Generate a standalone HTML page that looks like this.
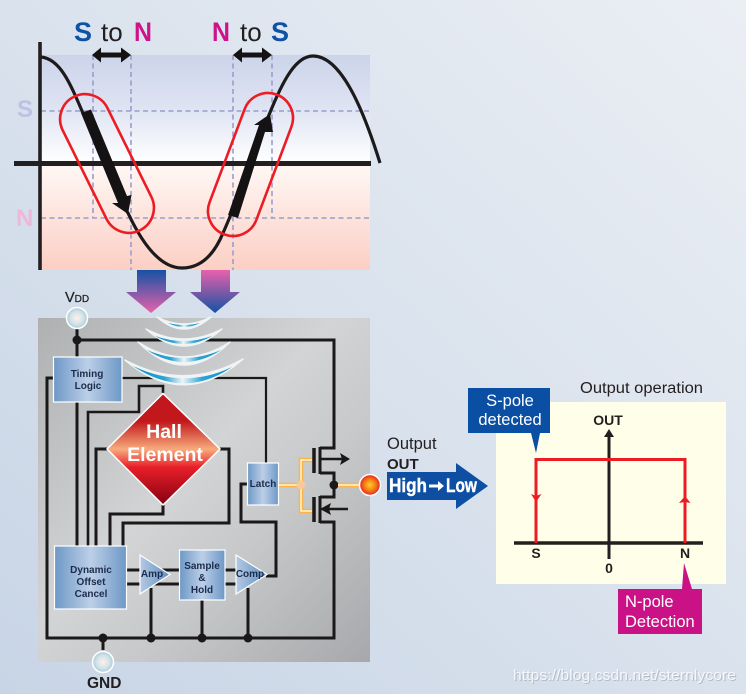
<!DOCTYPE html>
<html><head><meta charset="utf-8">
<style>html,body{margin:0;padding:0;width:746px;height:694px;overflow:hidden}svg{display:block}text{font-family:"Liberation Sans",sans-serif}</style>
</head><body>
<svg width="746" height="694" viewBox="0 0 746 694" xmlns="http://www.w3.org/2000/svg">
<defs>
<linearGradient id="bg" x1="0" y1="1" x2="1" y2="0"><stop offset="0" stop-color="#c8d5e6"/><stop offset="1" stop-color="#ebeff4"/></linearGradient>
<linearGradient id="up" x1="0" y1="0" x2="0" y2="1"><stop offset="0" stop-color="#ccd4ea"/><stop offset=".5" stop-color="#dfe4f3"/><stop offset="1" stop-color="#fff"/></linearGradient>
<linearGradient id="lo" x1="0" y1="0" x2="0" y2="1"><stop offset="0" stop-color="#fff8f5"/><stop offset="1" stop-color="#fbcfc4"/></linearGradient>
<linearGradient id="a1" x1="0" y1="0" x2="0" y2="1"><stop offset="0" stop-color="#1452a4"/><stop offset="1" stop-color="#e961ab"/></linearGradient>
<linearGradient id="a2" x1="0" y1="0" x2="0" y2="1"><stop offset="0" stop-color="#e961ab"/><stop offset="1" stop-color="#1452a4"/></linearGradient>
<linearGradient id="pn" x1="0" y1="0" x2="1" y2="1"><stop offset="0" stop-color="#aeb0b1"/><stop offset=".45" stop-color="#d2d4d5"/><stop offset=".65" stop-color="#c6c8c9"/><stop offset="1" stop-color="#a6a8ab"/></linearGradient>
<linearGradient id="box" x1="0" y1="0" x2="1" y2="0"><stop offset="0" stop-color="#6d98c6"/><stop offset=".5" stop-color="#bccfe8"/><stop offset="1" stop-color="#6d98c6"/></linearGradient>
<linearGradient id="tri" x1="0" y1="0" x2="1" y2="0"><stop offset="0" stop-color="#b4cae4"/><stop offset="1" stop-color="#5f8dbf"/></linearGradient>
<linearGradient id="dia" x1="0" y1="0" x2="0" y2="1"><stop offset="0" stop-color="#c2161c"/><stop offset=".25" stop-color="#c2181c"/><stop offset=".5" stop-color="#f7ab7d"/><stop offset=".66" stop-color="#e81f2a"/><stop offset="1" stop-color="#850010"/></linearGradient>
<linearGradient id="arc" x1="0" y1="0" x2="1" y2="0"><stop offset="0" stop-color="#0f8fc6"/><stop offset=".32" stop-color="#2ea3d2"/><stop offset=".5" stop-color="#eef4f7"/><stop offset=".7" stop-color="#2ea3d2"/><stop offset="1" stop-color="#0f8fc6"/></linearGradient>
<radialGradient id="ball"><stop offset="0" stop-color="#fff0e8"/><stop offset=".6" stop-color="#d4e3ea"/><stop offset="1" stop-color="#a9cbd6"/></radialGradient>
<radialGradient id="red"><stop offset="0" stop-color="#fdd020"/><stop offset=".55" stop-color="#f77a1a"/><stop offset="1" stop-color="#e6201c"/></radialGradient>
</defs>
<rect width="746" height="694" fill="url(#bg)"/>

<!-- chart -->
<rect x="41" y="55" width="329" height="108" fill="url(#up)"/>
<rect x="41" y="163" width="329" height="107" fill="url(#lo)"/>
<g stroke="#9c9ccd" stroke-width="1.600" stroke-dasharray="5 3.500" fill="none">
<path d="M41 111H370M41 218H370M93 55V218M131 55V270M233 55V270M272 55V218"/>
</g>
<path d="M41 57C62 59 72 88 88 125C104 162 115 195 128 213C142 243 160 268 182 268C204 268 216 250 223 233C238 200 255 150 269 115C283 80 296 56 313 56C340 56 362 105 380 163" fill="none" stroke="#1c1a1b" stroke-width="3.200"/>
<path d="M40 42V270" stroke="#231f20" stroke-width="3.600"/>
<path d="M14 163.500H371" stroke="#231f20" stroke-width="5"/>
<!-- thick arrows -->
<path d="M81 113L91 109.500L127 196L131.500 195L128 214L112 203L118 203Z" fill="#141213"/>
<path d="M228 215L238 218L265 132L273 132L270 114L254 125L259 125Z" fill="#141213"/>
<g fill="none" stroke="#ed1c24" stroke-width="2.600">
<path d="M62.600 130.100A25 25 0 0 1 107.400 107.900L151.400 196.900A25 25 0 0 1 106.600 219.100Z"/>
<path d="M244.600 109.200A25 25 0 0 1 291.400 126.800L256.400 219.800A25 25 0 0 1 209.600 202.200Z"/>
</g>
<!-- double arrows -->
<g fill="#141213">
<path d="M92 55L101 47.500V52.500H121V47.500L131 55L121 62.500V57.500H101V62.500Z"/>
<path d="M233 55L242 47.500V52.500H262V47.500L272 55L262 62.500V57.500H242V62.500Z"/>
</g>
<g font-size="27">
<text x="74" y="41" font-weight="bold" fill="#0e52a5">S</text>
<text x="101" y="41" fill="#231f20" font-size="26">to</text>
<text x="134" y="41" font-weight="bold" fill="#cc138a" textLength="18" lengthAdjust="spacingAndGlyphs">N</text>
<text x="212" y="41" font-weight="bold" fill="#cc138a" textLength="18" lengthAdjust="spacingAndGlyphs">N</text>
<text x="240" y="41" fill="#231f20" font-size="26">to</text>
<text x="271" y="41" font-weight="bold" fill="#0e52a5">S</text>
<text x="17" y="117" font-size="24" font-weight="bold" fill="#bcc2e4">S</text>
<text x="16" y="226" font-size="24" font-weight="bold" fill="#efb7d8">N</text>
</g>
<!-- big arrows -->
<path d="M137 270H166V292H176L151 313L126 292H137Z" fill="url(#a1)"/>
<path d="M201 270H230V292H240L215 313L190 292H201Z" fill="url(#a2)"/>

<!-- panel -->
<rect x="38" y="318" width="332" height="344" fill="url(#pn)"/>

<!-- wires -->
<g fill="none" stroke="#1a1819" stroke-width="3">
<path d="M77 318V546M77 340H334V448H320M320 473H334V497H320M320 522H334V638H47V378H53"/>
<path d="M88 546V412H139V386H163V393" stroke-width="2.600"/>
<path d="M96 546V449H107"/>
<path d="M110 546V514H163V505"/>
<path d="M123 546V523H229V449H220"/>
<path d="M122 378H266V463" stroke-width="2.200"/>
<path d="M247 484H241V522H276V576H266"/>
<path d="M127 570H179M127 584H179M225 570H240M225 584H240"/>
<path d="M151 588V638M202 600V638M248 588V638M103 638V650"/>
</g>
<!-- mosfet -->
<g fill="none" stroke="#1a1819">
<path d="M314 448V473M314 497V522" stroke-width="3.500"/>
<path d="M320 447V474M320 496V523" stroke-width="3"/>
<path d="M320 459H345M322 509H348" stroke-width="2.500"/>
</g>
<path d="M340 453L350 459L340 465L342 459ZM331 503L320 509L331 515L329 509Z" fill="#1a1819"/>
<g fill="#1a1819">
<circle cx="77" cy="340" r="4.500"/><circle cx="103" cy="638" r="4.500"/><circle cx="151" cy="638" r="4.500"/><circle cx="202" cy="638" r="4.500"/><circle cx="248" cy="638" r="4.500"/><circle cx="334" cy="485" r="4.500"/>
</g>
<!-- gold wires -->
<g fill="none" stroke="#fbb448" stroke-width="4.500">
<path d="M279 485H301M312 460H301V511H312M338 485H360"/>
</g>
<g fill="none" stroke="#fff3cf" stroke-width="1.600">
<path d="M279 485H301M312 460H301V511H312M338 485H360"/>
</g>
<circle cx="301" cy="485" r="4.500" fill="#fbc79a"/>

<!-- waves -->
<g stroke="#f1f4f5" stroke-width="1.500" stroke-linejoin="round" fill="#f1f4f5">
<path d="M157 317Q184 331 211 317Q184 341 157 317Z"/>
<path d="M146 329Q184 349 222 329Q184 363 146 329Z"/>
<path d="M138 342Q184 372 230 342Q184 388 138 342Z"/>
<path d="M125 360Q184 392 243 359Q184 410 125 360Z"/>
</g>
<g fill="url(#arc)">
<path d="M168 323Q184 327 200 323Q184 331 168 323Z"/>
<path d="M155 336Q184 346 212 336Q184 352 155 336Z"/>
<path d="M147 350Q184 366 221 350Q184 374 147 350Z"/>
<path d="M133 366Q184 390 232 367Q184 400 133 366Z"/>
</g>

<!-- blocks -->
<g stroke="#fff" stroke-width="1.200" fill="url(#box)">
<rect x="53.500" y="357" width="68.500" height="45"/>
<rect x="54.500" y="546" width="72" height="63"/>
<rect x="179.500" y="550" width="45.500" height="50"/>
<rect x="247.500" y="463" width="31" height="42"/>
</g>
<g stroke="#fff" stroke-width="1.200" fill="url(#tri)">
<path d="M140 555L170 574.500L140 594Z"/>
<path d="M236 555L267 574.500L236 594Z"/>
</g>
<path d="M163 393.500L220 449L163 505L107 449Z" fill="url(#dia)" stroke="#fff" stroke-width="1.500"/>
<g font-weight="bold" font-size="10" fill="#1c2c4c" text-anchor="middle">
<text x="87" y="377">Timing</text><text x="88" y="389">Logic</text>
<text x="91" y="573">Dynamic</text><text x="91" y="585">Offset</text><text x="91" y="597">Cancel</text>
<text x="202" y="569">Sample</text><text x="202" y="581">&amp;</text><text x="202" y="593">Hold</text>
<text x="152" y="577">Amp</text><text x="250" y="577">Comp</text>
<text x="263" y="487">Latch</text>
</g>
<g font-weight="bold" fill="#fff" text-anchor="middle">
<text x="164" y="438" font-size="19.500">Hall</text>
<text x="165" y="461" font-size="19.500">Element</text>
</g>

<!-- terminals -->
<circle cx="77" cy="318" r="10.500" fill="url(#ball)" stroke="#fff" stroke-width="1.500"/>
<circle cx="103" cy="662" r="10.500" fill="url(#ball)" stroke="#fff" stroke-width="1.500"/>
<circle cx="370" cy="485" r="10.500" fill="url(#red)" stroke="#fff" stroke-width="1.500"/>
<text x="65" y="302" font-size="14.500" fill="#231f20" stroke="#231f20" stroke-width=".25">V<tspan font-size="10">DD</tspan></text>
<text x="87" y="688" font-size="15.500" font-weight="bold" fill="#231f20">GND</text>

<!-- output -->
<text x="387" y="449" font-size="16.500" fill="#231f20">Output</text>
<text x="387" y="469" font-size="15" font-weight="bold" fill="#231f20">OUT</text>
<path d="M387 472H456V463L488 486L456 509V500H387Z" fill="#0e4fa3"/>
<g fill="#fff" stroke="#fff" stroke-width=".4" font-weight="bold" font-size="19">
<text x="389" y="492" textLength="38" lengthAdjust="spacingAndGlyphs">High</text>
<text x="446" y="492" textLength="31" lengthAdjust="spacingAndGlyphs">Low</text>
</g>
<path d="M429 484.500H438V481L444 486L438 491V487.500H429Z" fill="#fff"/>

<!-- operation panel -->
<rect x="496" y="402" width="230" height="182" fill="#fffee9"/>
<text x="580" y="393" font-size="15.500" fill="#231f20" textLength="123" lengthAdjust="spacingAndGlyphs">Output operation</text>
<path d="M514 543H703" stroke="#231f20" stroke-width="3.500"/>
<path d="M609 559V435" stroke="#231f20" stroke-width="3"/>
<path d="M609 429L614 437H604Z" fill="#231f20"/>
<path d="M536 543V459.500H685V543" fill="none" stroke="#ed1c24" stroke-width="3"/>
<path d="M536 502L531 494L536 496L541.500 494ZM685 496L679 503L685 502L690.500 503Z" fill="#ed1c24"/>
<g font-size="14" font-weight="bold" fill="#231f20" text-anchor="middle">
<text x="608" y="425">OUT</text>
<text x="536" y="558">S</text>
<text x="685" y="558">N</text>
<text x="609" y="573">0</text>
</g>
<path d="M468 388H550V433H540L536 453L531 433H468Z" fill="#0a4fa3"/>
<path d="M618 589H682L684 563L692 589H702V634H618Z" fill="#cb1186"/>
<g font-size="16.500" fill="#fff">
<text x="510" y="406" text-anchor="middle">S-pole</text>
<text x="510" y="425" text-anchor="middle">detected</text>
<text x="625" y="607">N-pole</text>
<text x="625" y="627">Detection</text>
</g>

<!-- watermark -->
<text x="514" y="681" font-size="15" fill="#8d98a6" fill-opacity=".5" textLength="223" lengthAdjust="spacingAndGlyphs">https://blog.csdn.net/sternlycore</text>
<text x="513" y="680" font-size="15" fill="#fff" fill-opacity=".8" textLength="223" lengthAdjust="spacingAndGlyphs">https://blog.csdn.net/sternlycore</text>
</svg>
</body></html>
